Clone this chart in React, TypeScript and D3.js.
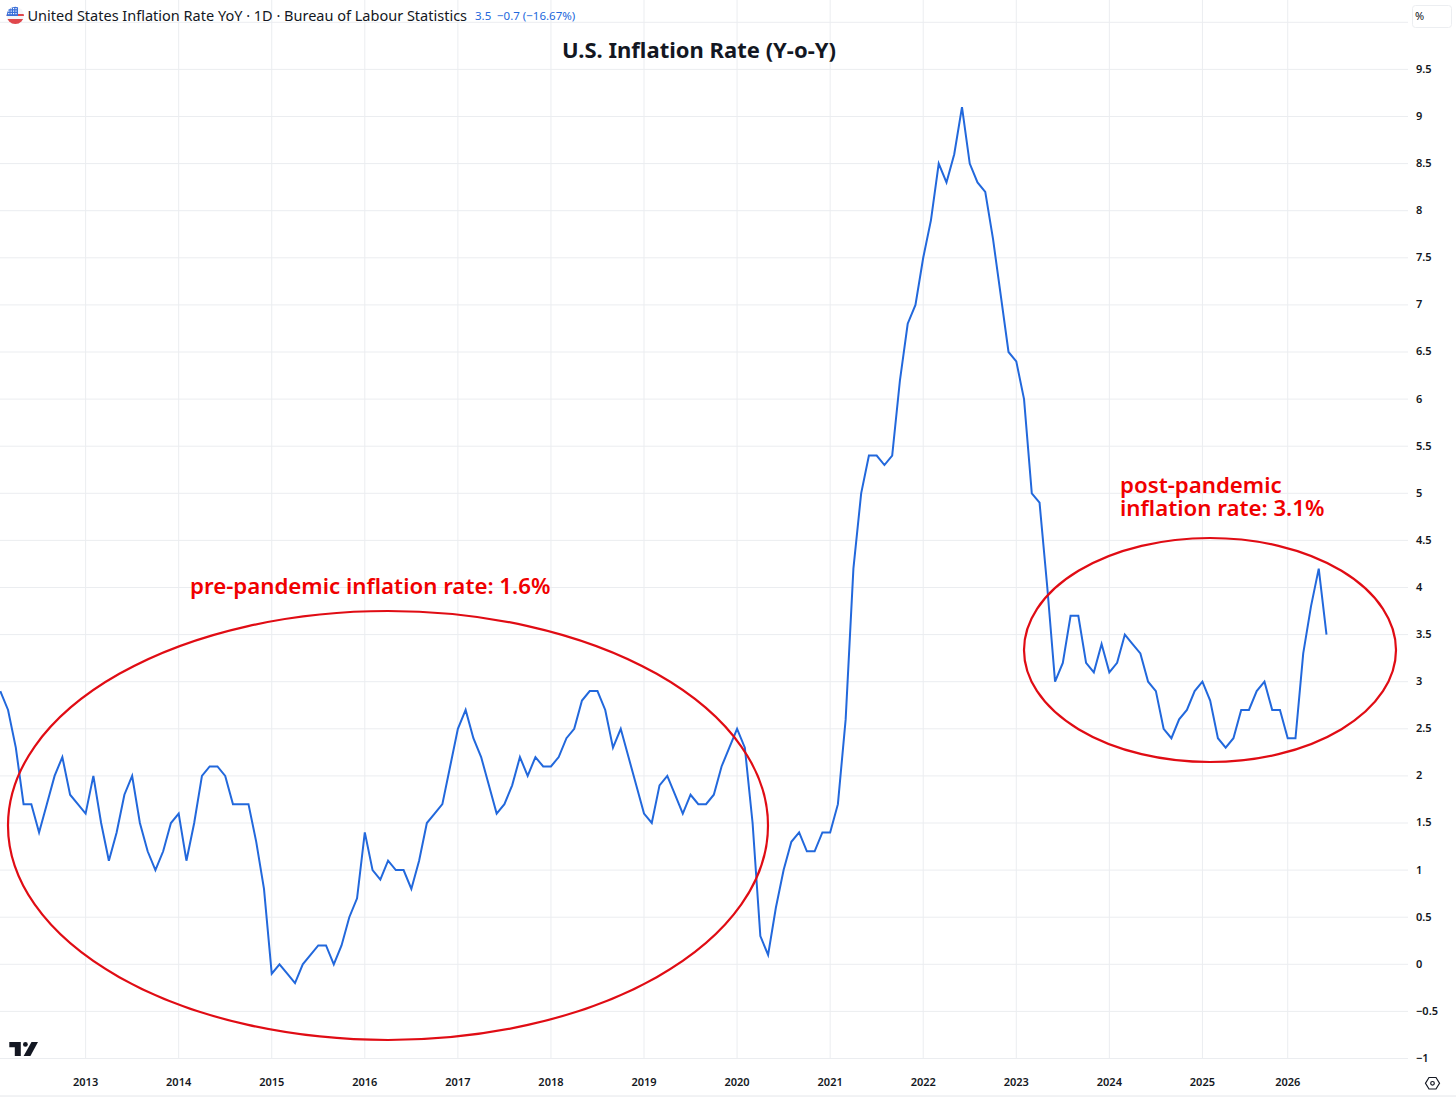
import React from 'react';
import * as d3 from 'd3';

// Monthly y/y CPI, one list per year (2012 starts in Feb, Oct 2025 was never published)
const values2012 = [2.9, 2.7, 2.3, 1.7, 1.7, 1.4, 1.7, 2.0, 2.2, 1.8, 1.7];
const values2013 = [1.6, 2.0, 1.5, 1.1, 1.4, 1.8, 2.0, 1.5, 1.2, 1.0, 1.2, 1.5];
const values2014 = [1.6, 1.1, 1.5, 2.0, 2.1, 2.1, 2.0, 1.7, 1.7, 1.7, 1.3, 0.8];
const values2015 = [-0.1, 0.0, -0.1, -0.2, 0.0, 0.1, 0.2, 0.2, 0.0, 0.2, 0.5, 0.7];
const values2016 = [1.4, 1.0, 0.9, 1.1, 1.0, 1.0, 0.8, 1.1, 1.5, 1.6, 1.7, 2.1];
const values2017 = [2.5, 2.7, 2.4, 2.2, 1.9, 1.6, 1.7, 1.9, 2.2, 2.0, 2.2, 2.1];
const values2018 = [2.1, 2.2, 2.4, 2.5, 2.8, 2.9, 2.9, 2.7, 2.3, 2.5, 2.2, 1.9];
const values2019 = [1.6, 1.5, 1.9, 2.0, 1.8, 1.6, 1.8, 1.7, 1.7, 1.8, 2.1, 2.3];
const values2020 = [2.5, 2.3, 1.5, 0.3, 0.1, 0.6, 1.0, 1.3, 1.4, 1.2, 1.2, 1.4];
const values2021 = [1.4, 1.7, 2.6, 4.2, 5.0, 5.4, 5.4, 5.3, 5.4, 6.2, 6.8, 7.0];
const values2022 = [7.5, 7.9, 8.5, 8.3, 8.6, 9.1, 8.5, 8.3, 8.2, 7.7, 7.1, 6.5];
const values2023 = [6.4, 6.0, 5.0, 4.9, 4.0, 3.0, 3.2, 3.7, 3.7, 3.2, 3.1, 3.4];
const values2024 = [3.1, 3.2, 3.5, 3.4, 3.3, 3.0, 2.9, 2.5, 2.4, 2.6, 2.7, 2.9];
const values2025 = [3.0, 2.8, 2.4, 2.3, 2.4, 2.7, 2.7, 2.9, 3.0, 2.7, 2.7];
const values2026 = [2.4, 2.4, 3.3, 3.8, 4.2, 3.5];

const yearValues: [number, number[]][] = [
  [2012, values2012], [2013, values2013], [2014, values2014], [2015, values2015], [2016, values2016],
  [2017, values2017], [2018, values2018], [2019, values2019], [2020, values2020], [2021, values2021],
  [2022, values2022], [2023, values2023], [2024, values2024], [2025, values2025], [2026, values2026],
];

const yTicks = d3.range(-1, 10.5, 0.5);
const pointCount = d3.sum(yearValues, d => d[1].length);

const WIDTH = 1456;
const HEIGHT = 1097;
const PLOT_RIGHT = 1408;
const FONT = '"Noto Sans", "Open Sans", sans-serif';
const TEXT = '#131722';
const GRID = '#ebedf0';
const BLUE = '#2268dc';
const RED = '#e00c14';

// The time axis is index based, like TradingView's: one step per published month
const x = d3.scaleLinear().domain([0, pointCount - 1]).range([0.3, 1326.5]);
const y = d3.scaleLinear().domain([-1, 10]).range([1058.5, 22.3]);

const series = yearValues.flatMap(d => d[1]);
const line = d3.line<number>().x((_, i) => x(i)).y(d => y(d));

// First index of each year gives the year tick; 2012 has no label since it starts off-axis
let offset = 0;
const yearTicks = yearValues.map(([year, vals]) => {
  const tick = { year, index: offset };
  offset += vals.length;
  return tick;
}).filter(d => d.year > 2012);

const formatTick = (v: number) => (v < 0 ? `\u2212${Math.abs(v)}` : `${v}`);

const FlagIcon = () => (
  <g>
    <clipPath id="flag-clip"><circle cx={15.3} cy={15.3} r={8.6} /></clipPath>
    <g clipPath="url(#flag-clip)">
      <rect x={6} y={6} width={19} height={19} fill="#f4f5f8" />
      <rect x={6} y={14} width={19} height={2} fill="#e0474c" />
      <rect x={6} y={19} width={19} height={6} fill="#e0474c" />
      <rect x={6} y={6} width={12} height={10} fill="#3a6fd8" />
      {d3.range(3).map(r => d3.range(4).map(c => (
        <rect key={`${r}-${c}`} x={8.2 + c * 2.4} y={8 + r * 2.5} width={1.2} height={1.2} fill="#fff" />
      )))}
    </g>
  </g>
);

const TvLogo = () => (
  <g fill="#131722">
    <path d="M9.3 1042 H20.8 V1056 H14.8 V1047.2 H9.3 Z" />
    <circle cx={25.4} cy={1044.4} r={2.4} />
    <path d="M31.5 1042 H38 L30.4 1056 H23.6 Z" />
  </g>
);

export default function App() {
  return (
    <svg
      width={WIDTH}
      height={HEIGHT}
      viewBox={`0 0 ${WIDTH} ${HEIGHT}`}
      style={{ position: 'absolute', left: 0, top: 0, background: '#fff' }}
      fontFamily={FONT}
    >
      {/* grid */}
      <g stroke={GRID} strokeWidth={1}>
        {yTicks.map(t => (
          <line key={t} x1={0} x2={PLOT_RIGHT} y1={y(t)} y2={y(t)} />
        ))}
        {yearTicks.map(t => (
          <line key={t.year} x1={x(t.index)} x2={x(t.index)} y1={0} y2={1058} />
        ))}
      </g>
      <line x1={0} x2={WIDTH} y1={1096} y2={1096} stroke="#e4e6ea" />

      {/* series */}
      <path d={line(series) ?? ''} fill="none" stroke={BLUE} strokeWidth={2} strokeLinejoin="miter" />

      {/* hand drawn annotations */}
      <ellipse cx={388} cy={825.5} rx={380} ry={214.5} fill="none" stroke={RED} strokeWidth={2.2} />
      <ellipse cx={1210} cy={650} rx={186} ry={112} fill="none" stroke={RED} strokeWidth={2.2} />
      <g fill="#f00000" fontSize={22.25} fontWeight={600}>
        <text x={190} y={594}>pre-pandemic inflation rate: 1.6%</text>
        <text x={1120} y={493}>post-pandemic</text>
        <text x={1120} y={516}>inflation rate: 3.1%</text>
      </g>

      <text x={699} y={58} textAnchor="middle" fontSize={22} fontWeight={700} fill={TEXT}>
        U.S. Inflation Rate (Y-o-Y)
      </text>

      {/* legend */}
      <FlagIcon />
      <text x={27.5} y={21} fontSize={14.5} fill={TEXT}>
        United States Inflation Rate YoY · 1D · Bureau of Labour Statistics
      </text>
      <text x={475} y={20} fontSize={11.5} fill={BLUE}>3.5</text>
      <text x={497} y={20} fontSize={11.5} fill={BLUE}>{'\u22120.7 (\u221216.67%)'}</text>

      {/* axes */}
      <g fontSize={11} fontWeight={600} fill={TEXT}>
        {yTicks.filter(t => t < 10).map(t => (
          <text key={t} x={1416} y={y(t) + 3.4}>{formatTick(t)}</text>
        ))}
        {yearTicks.map(t => (
          <text key={t.year} x={x(t.index)} y={1086} textAnchor="middle">{t.year}</text>
        ))}
      </g>
      <rect x={1412.5} y={5.5} width={39} height={22} rx={3} fill="#fff" stroke="#eceef1" />
      <text x={1415} y={20} fontSize={11} fill={TEXT}>%</text>

      {/* settings hexagon */}
      <path d="M1429 1077.5 H1436 L1439.5 1083.3 L1436 1089 H1429 L1425.5 1083.3 Z" fill="none" stroke={TEXT} strokeWidth={1.2} />
      <circle cx={1432.5} cy={1083.3} r={1.8} fill="none" stroke={TEXT} strokeWidth={1.2} />

      <TvLogo />
    </svg>
  );
}
